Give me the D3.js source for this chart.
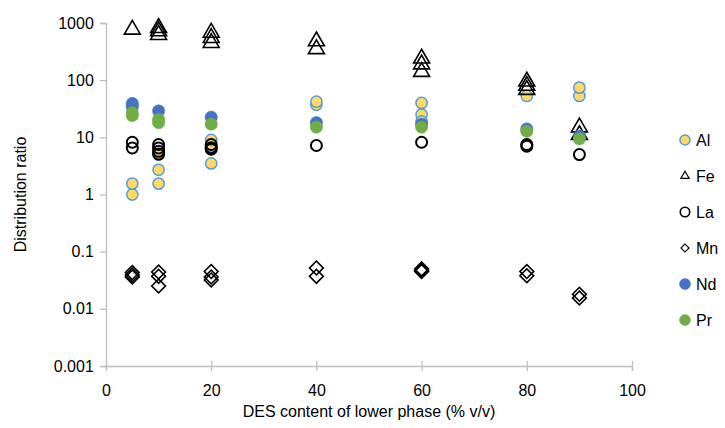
<!DOCTYPE html>
<html>
<head>
<meta charset="utf-8">
<script src="https://cdn.jsdelivr.net/npm/d3@7"></script>
<style>
  body { margin: 0; background: #fff; }
  text { font-family: "Liberation Sans", Arial, sans-serif; fill: #000; }
</style>
</head>
<body>
<script>
// data
var alX = [5, 5, 10, 10, 10, 20, 20, 20, 40, 40, 60, 60, 60, 80, 90, 90];
var alY = [1.0, 1.55, 1.55, 2.7, 5.0, 3.5, 7.0, 9.0, 37, 42, 40, 25, 19, 53, 53, 74];
var feX = [5, 10, 10, 10, 20, 20, 20, 40, 40, 60, 60, 60, 80, 80, 80, 90, 90];
var feY = [770, 820, 720, 620, 680, 550, 450, 480, 350, 240, 190, 140, 95, 80, 68, 15, 11];
var laX = [5, 5, 10, 10, 10, 10, 20, 20, 20, 40, 60, 80, 80, 90];
var laY = [8.2, 6.5, 7.5, 6.5, 5.7, 5.1, 7.5, 6.6, 6.2, 7.2, 8.2, 7.5, 7.0, 5.0];
var mnX = [5, 5, 5, 10, 10, 10, 20, 20, 20, 40, 40, 60, 60, 60, 80, 80, 90, 90];
var mnY = [0.043, 0.039, 0.036, 0.044, 0.037, 0.025, 0.045, 0.036, 0.032, 0.052, 0.037, 0.050, 0.047, 0.045, 0.045, 0.038, 0.018, 0.0155];
var ndX = [5, 5, 10, 20, 40, 60, 80, 90];
var ndY = [39, 34, 29, 22.5, 18, 17, 14, 10.5];
var prX = [5, 5, 10, 10, 20, 40, 60, 80, 90];
var prY = [27, 24, 20.5, 18, 17, 15.1, 15.1, 12.8, 9.4];

var xTicks = [0, 20, 40, 60, 80, 100];
var yTicks = [0.001, 0.01, 0.1, 1, 10, 100, 1000];

var w = 725, h = 428;
var mLeft = 106, mRight = 632, mTop = 23, mBottom = 366;

var svg = d3.select("body").append("svg")
  .attr("width", w)
  .attr("height", h);

var x = d3.scaleLinear().domain([0, 100]).range([mLeft, mRight]);
var y = d3.scaleLog().domain([0.001, 1000]).range([mBottom, mTop]);

// axes
var xAxis = svg.append("g")
  .attr("transform", "translate(0," + mBottom + ")")
  .call(d3.axisBottom(x).tickValues(xTicks).tickSize(5).tickFormat(d3.format("d")));
xAxis.selectAll(".tick line").attr("y1", -5).attr("y2", 5);
xAxis.selectAll(".tick text").attr("dy", "1.35em");

var yAxis = svg.append("g")
  .attr("transform", "translate(" + mLeft + ",0)")
  .call(d3.axisLeft(y).tickValues(yTicks).tickSize(6).tickFormat(function(d){ return String(d); }));
yAxis.selectAll(".tick text").attr("dx", "-0.2em");

svg.selectAll(".domain, .tick line").attr("stroke", "#bfbfbf").attr("stroke-width", 1.3);
svg.selectAll(".tick text").style("font-size", "16px").style("font-family", "Liberation Sans, Arial, sans-serif");

// axis titles
svg.append("text")
  .attr("x", (mLeft + mRight) / 2)
  .attr("y", 417)
  .attr("text-anchor", "middle")
  .style("font-size", "16px")
  .text("DES content of lower phase (% v/v)");

svg.append("text")
  .attr("transform", "translate(26," + ((mTop + mBottom) / 2) + ") rotate(-90)")
  .attr("text-anchor", "middle")
  .style("font-size", "16px")
  .text("Distribution ratio");

// series (Mn diamond = square turned 45 degrees)
var series = [
  {name: "Al", xs: alX, ys: alY, type: d3.symbolCircle, rot: 0, size: 100, legendSize: 80, fill: "#ffd966", stroke: "#5b9bd5", sw: 1.5},
  {name: "Fe", xs: feX, ys: feY, type: d3.symbolTriangle, rot: 0, size: 110, legendSize: 30, fill: "none", stroke: "#000", sw: 1.6},
  {name: "La", xs: laX, ys: laY, type: d3.symbolCircle, rot: 0, size: 95, legendSize: 70, fill: "none", stroke: "#000", sw: 2},
  {name: "Mn", xs: mnX, ys: mnY, type: d3.symbolSquare, rot: 45, size: 95, legendSize: 32, fill: "none", stroke: "#000", sw: 1.6},
  {name: "Nd", xs: ndX, ys: ndY, type: d3.symbolCircle, rot: 0, size: 120, legendSize: 95, fill: "#4472c4", stroke: "#4472c4", sw: 0.5},
  {name: "Pr", xs: prX, ys: prY, type: d3.symbolCircle, rot: 0, size: 120, legendSize: 95, fill: "#70ad47", stroke: "#70ad47", sw: 0.5}
];

series.forEach(function(s){
  var pts = s.xs.map(function(v, i){ return [v, s.ys[i]]; });
  svg.append("g").selectAll("path")
    .data(pts)
    .enter()
    .append("path")
    .attr("d", d3.symbol().type(s.type).size(s.size))
    .attr("transform", function(d){ return "translate(" + x(d[0]) + "," + y(d[1]) + ") rotate(" + s.rot + ")"; })
    .attr("fill", s.fill)
    .attr("stroke", s.stroke)
    .attr("stroke-width", s.sw);
});

// legend
var legend = svg.append("g");
series.forEach(function(s, i){
  var ly = 140 + i * 36;
  legend.append("path")
    .attr("d", d3.symbol().type(s.type).size(s.legendSize))
    .attr("transform", "translate(685," + ly + ") rotate(" + s.rot + ")")
    .attr("fill", s.fill)
    .attr("stroke", s.stroke)
    .attr("stroke-width", s.name == "La" ? 1.6 : (s.fill == "none" ? 1.2 : s.sw));
  legend.append("text")
    .attr("x", 696)
    .attr("y", ly)
    .attr("dy", "0.36em")
    .style("font-size", "16px")
    .text(s.name);
});
</script>
</body>
</html>
